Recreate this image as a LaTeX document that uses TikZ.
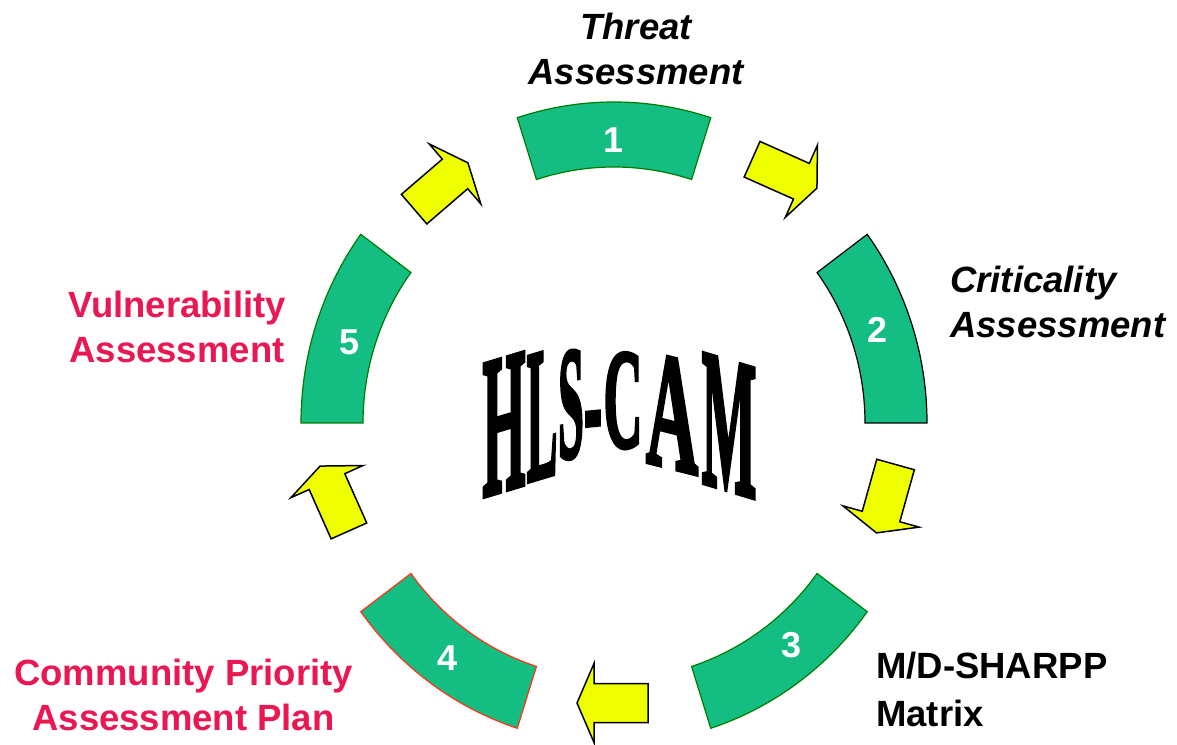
\documentclass[tikz,border=0pt]{standalone}
\usepackage{fontspec}
\setmainfont{Liberation Sans}
\newfontfamily\hlsfont{Liberation Serif}[BoldFeatures={FakeBold=3}]
\usepackage{pgf,tikz}
\usetikzlibrary{arrows}

\definecolor{segfill}{RGB}{20,190,130}
\definecolor{seggreen}{RGB}{0,125,0}
\definecolor{segred}{RGB}{255,50,20}
\definecolor{arrowyellow}{RGB}{240,255,0}
\definecolor{labelpink}{RGB}{233,24,82}

\tikzset{
  seg/.style={fill=segfill, draw=seggreen, line width=1.2pt},
  segnum/.style={text=white, inner sep=0pt, font=\bfseries\fontsize{36}{36}\selectfont},
  yellowarrow/.style={fill=arrowyellow, draw=black, line width=1.5pt, line join=miter},
  steptext/.style={inner sep=0pt, font=\bfseries\fontsize{36.5}{44}\selectfont},
  hls/.style={transform shape, anchor=base, inner sep=0pt, font=\hlsfont\bfseries\fontsize{100}{100}\selectfont}
}

% one block of the ring: start angle, end angle, outline colour
\newcommand{\cyclesegment}[3]{%
  \draw[seg, draw=#3] ([shift={(#1:313 and 321)}]ctr)
    arc[start angle=#1, end angle=#2, x radius=313, y radius=321]
    -- ([shift={(#2:251 and 256)}]ctr)
    arc[start angle=#2, end angle=#1, x radius=251, y radius=256] -- cycle;}

% yellow block arrow: x, y, direction
\newcommand{\cyclearrow}[3]{%
  \begin{scope}[shift={(#1,#2)}, rotate=#3]
    \draw[yellowarrow] (-35.5,-19.5) -- (18.5,-19.5) -- (18.5,-39.5) -- (35.5,0)
      -- (18.5,39.5) -- (18.5,19.5) -- (-35.5,19.5) -- cycle;
  \end{scope}}

% one letter of the arched title: name, x, y, xscale, yscale, slant, letter
\newcommand{\hlsletter}[7]{%
  \begin{scope}[shift={(#2,#3)}, yslant=#6, xscale=#4, yscale=#5]
    \node[hls] (#1) at (0,0) {#7};
  \end{scope}}

\begin{document}
\begin{tikzpicture}[x=1pt, y=1pt]
  \useasboundingbox (0,0) rectangle (1177,744);
  \coordinate (ctr) at (614,321);

  \cyclesegment{72}{108}{seggreen}
  \cyclesegment{0}{36}{black}
  \cyclesegment{-72}{-36}{seggreen}
  \cyclesegment{216}{252}{segred}
  \cyclesegment{144}{180}{seggreen}

  \node[segnum] (n1) at (614,603.5) {1};
  \node[segnum] (n2) at (877,414) {2};
  \node[segnum] (n3) at (791,99) {3};
  \node[segnum] (n4) at (448,86) {4};
  \node[segnum] (n5) at (350,402) {5};

  \cyclearrow{784.5}{570.3}{-24}
  \cyclearrow{886}{245.3}{-105.6}
  \cyclearrow{612.5}{41}{180}
  \cyclearrow{334.5}{245.5}{114}
  \cyclearrow{441}{558}{40.7}

  % arched title
  \hlsletter{tH}{504}{254}{0.55}{2.0}{0.3}{H}
  \hlsletter{tL}{542}{267}{0.46}{1.89}{0.3}{L}
  \hlsletter{tS}{571}{287}{0.46}{1.6}{0.2}{S}
  \hlsletter{tD}{593}{290}{0.55}{1.5}{0.1}{-}
  \hlsletter{tC}{623}{297}{0.54}{1.42}{0}{C}
  \hlsletter{tA}{672}{276}{0.72}{1.66}{-0.25}{A}
  \hlsletter{tM}{729}{254}{0.58}{1.96}{-0.3}{M}

  \node[steptext, anchor=base, font=\bfseries\itshape\fontsize{36.5}{44}\selectfont] (threatA) at (636,704) {Threat};
  \node[steptext, anchor=base, font=\bfseries\itshape\fontsize{36.5}{44}\selectfont] (threatB) at (636,659) {Assessment};
  \node[steptext, anchor=base west, font=\bfseries\itshape\fontsize{36.5}{44}\selectfont] (critA) at (950,451) {Criticality};
  \node[steptext, anchor=base west, font=\bfseries\itshape\fontsize{36.5}{44}\selectfont] (critB) at (950,406) {Assessment};
  \node[steptext, anchor=base west] (sharpA) at (876,66) {M/D-SHARPP};
  \node[steptext, anchor=base west] (sharpB) at (876,18) {Matrix};
  \node[steptext, anchor=base, text=labelpink] (vulnA) at (177,426) {Vulnerability};
  \node[steptext, anchor=base, text=labelpink] (vulnB) at (177,381) {Assessment};
  \node[steptext, anchor=base, text=labelpink] (commA) at (183.5,59) {Community Priority};
  \node[steptext, anchor=base, text=labelpink] (commB) at (183.5,14) {Assessment Plan};
\end{tikzpicture}
\end{document}
